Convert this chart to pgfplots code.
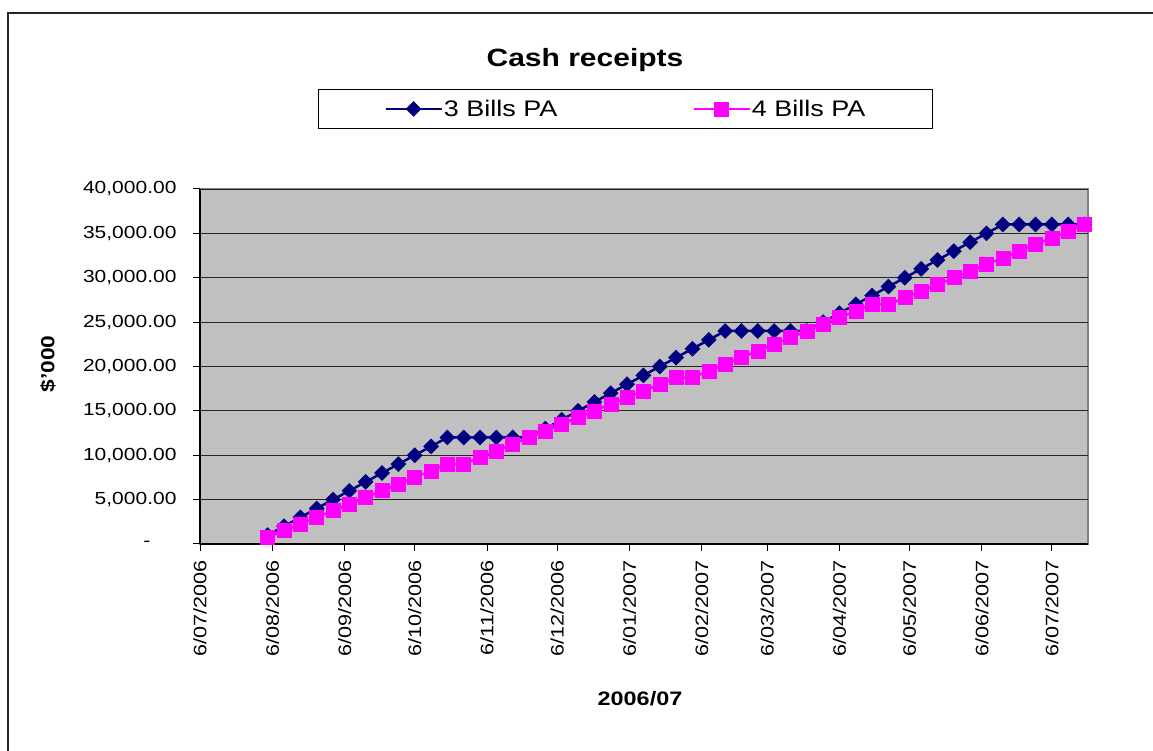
\documentclass[border=0pt]{standalone}
\usepackage{fontspec}
\setmainfont{Liberation Sans}[FakeStretch=1.2]
\usepackage{pgfplots}
\pgfplotsset{compat=1.18}
\usepackage{pgfplotstable}
\definecolor{navyS}{HTML}{000080}
\definecolor{magS}{HTML}{FF00FF}
\definecolor{plotbg}{HTML}{C0C0C0}
\definecolor{frameg}{HTML}{808080}

% day = days after 6/07/2006
\pgfplotstableread{
day three four
29 1000 750
36 2000 1500
43 3000 2250
50 4000 3000
57 5000 3750
64 6000 4500
71 7000 5250
78 8000 6000
85 9000 6750
92 10000 7500
99 11000 8250
106 12000 9000
113 12000 9000
120 12000 9750
127 12000 10500
134 12000 11250
141 12000 12000
148 13000 12750
155 14000 13500
162 15000 14250
169 16000 15000
176 17000 15750
183 18000 16500
190 19000 17250
197 20000 18000
204 21000 18750
211 22000 18750
218 23000 19500
225 24000 20250
232 24000 21000
239 24000 21750
246 24000 22500
253 24000 23250
260 24000 24000
267 25000 24750
274 26000 25500
281 27000 26250
288 28000 27000
295 29000 27000
302 30000 27750
309 31000 28500
316 32000 29250
323 33000 30000
330 34000 30750
337 35000 31500
344 36000 32250
351 36000 33000
358 36000 33750
365 36000 34500
372 36000 35250
379 36000 36000
}\datatable

\begin{document}
\begin{tikzpicture}[x=1pt,y=1pt]
\useasboundingbox (0,0) rectangle (1153,751);
\draw[line width=1.5pt, black!85] (8,0) -- (8,738) -- (1153,738);
\begin{axis}[
  at={(200pt,207pt)}, anchor=south west,
  width=888pt, height=355pt, scale only axis,
  xmin=0, xmax=380.5, ymin=0, ymax=40000,
  scaled y ticks=false,
  axis lines=left,
  axis line style={-, black, line width=1.2pt},
  axis background/.style={fill=plotbg, draw=frameg, line width=2pt},
  ymajorgrids, grid style={black!85, line width=0.9pt},
  tick align=outside, major tick length=7pt,
  tick style={black, line width=1pt},
  clip mode=individual,
  ytick={0,5000,10000,15000,20000,25000,30000,35000,40000},
  yticklabels={{-\hspace*{26pt}},{5,000.00},{10,000.00},{15,000.00},{20,000.00},{25,000.00},{30,000.00},{35,000.00},{40,000.00}},
  yticklabel style={font=\fontsize{17.5}{20}\selectfont, anchor=east, xshift=-13pt},
  xtick={0,31,62,92,123,153,184,215,243,274,304,335,365},
  xticklabels={6/07/2006,6/08/2006,6/09/2006,6/10/2006,6/11/2006,6/12/2006,6/01/2007,6/02/2007,6/03/2007,6/04/2007,6/05/2007,6/06/2007,6/07/2007},
  xticklabel style={font=\fontsize{18}{20}\selectfont, rotate=90, anchor=east, xshift=-6pt},
  title={Cash receipts},
  title style={at={(axis description cs:0.4336,1.346)}, anchor=center, font=\bfseries\fontsize{25}{28}\selectfont},
  xlabel={2006/07},
  xlabel style={at={(axis description cs:0.4955,-0.436)}, anchor=center, font=\bfseries\fontsize{19.5}{22}\selectfont},
  ylabel={\$'000},
  ylabel style={at={(axis description cs:-0.171,0.507)}, anchor=center, font=\bfseries\fontsize{19}{22}\selectfont},
  legend columns=2,
  legend style={at={(axis description cs:0.479,1.2254)}, anchor=center,
    draw=black, line width=1pt, fill=white,
    font=\fontsize{22.5}{25}\selectfont,
    inner xsep=66pt, inner ysep=8.5pt,
    nodes={inner xsep=1pt, inner ysep=2pt},
    /tikz/every even column/.append style={column sep=134pt}},
  legend image code/.code={\draw[mark repeat=2,mark phase=2] plot coordinates {(0pt,0pt) (28pt,0pt) (56pt,0pt)};},
]
\addplot[navyS, line width=2.5pt, mark=square*, mark size=5.3pt,
  mark options={rotate=45, fill=navyS, draw=navyS, line width=0.5pt}]
  table[x=day, y=three] {\datatable};
\addlegendentry{3 Bills PA}
\addplot[magS, line width=2.5pt, mark=square*, mark size=7pt,
  mark options={fill=magS, draw=magS, line width=0.5pt}]
  table[x=day, y=four] {\datatable};
\addlegendentry{4 Bills PA}
\end{axis}
\end{tikzpicture}
\end{document}
